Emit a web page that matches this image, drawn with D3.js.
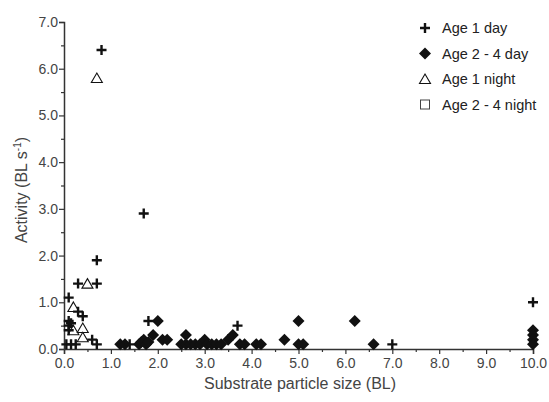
<!DOCTYPE html>
<html lang="en">
<head>
<meta charset="UTF-8">
<script src="https://d3js.org/d3.v7.min.js"></script>
<title>Activity vs substrate particle size</title>
<style>
  body { margin: 0; background: #fff; }
  text { font-family: "Liberation Sans", Arial, sans-serif; }
</style>
</head>
<body>
<script>
// Age 1 day (+)
var age1Day = [[0.8,6.4],[1.7,2.9],[0.7,1.9],[0.3,1.4],[0.7,1.4],[0.1,1.1],[0.3,0.8],[0.4,0.7],
  [0.1,0.6],[0.15,0.55],[0.1,0.5],[0.1,0.4],[0.05,0.1],[0.15,0.1],[0.25,0.1],[0.6,0.2],[0.7,0.1],
  [1.4,0.1],[1.8,0.6],[3.7,0.5],[7.0,0.1],[10.0,1.0]];
// Age 2 - 4 day (filled diamonds)
var age24Day = [[1.2,0.1],[1.3,0.1],[1.6,0.1],[1.65,0.15],[1.7,0.2],[1.75,0.1],[1.8,0.15],[1.9,0.3],
  [2.0,0.6],[2.1,0.2],[2.2,0.2],[2.5,0.1],[2.6,0.3],[2.6,0.1],[2.7,0.1],[2.8,0.1],[2.9,0.1],[3.0,0.2],
  [3.05,0.1],[3.15,0.1],[3.25,0.1],[3.35,0.1],[3.5,0.2],[3.6,0.3],[3.75,0.1],[3.85,0.1],[4.1,0.1],[4.2,0.1],
  [4.7,0.2],[5.0,0.6],[5.0,0.1],[5.1,0.1],[6.2,0.6],[6.6,0.1],[10,0.4],[10,0.3],[10,0.2],[10,0.1]];
// Age 1 night (open triangles)
var age1Night = [[0.7,5.8],[0.5,1.4],[0.2,0.9],[0.2,0.4],[0.4,0.45],[0.4,0.25]];
// Age 2 - 4 night (open squares) - none visible
var age24Night = [];

var legendLabels = ["Age 1 day", "Age 2 - 4 day", "Age 1 night", "Age 2 - 4 night"];
var xTicks = [0,1,2,3,4,5,6,7,8,9,10];
var yTicks = [0,1,2,3,4,5,6,7];

var width = 549, height = 402;
var svg = d3.select("body").append("svg").attr("width", width).attr("height", height);

var x = d3.scaleLinear().domain([0, 10]).range([64, 533]);
var y = d3.scaleLinear().domain([0, 7]).range([349, 22]);

var axisColor = "#333";

// axes
var yAxis = svg.append("g").attr("transform", "translate(64,0)")
  .call(d3.axisLeft(y).tickValues(yTicks).tickFormat(d3.format(".1f")).tickSize(5).tickPadding(1));
var xAxis = svg.append("g").attr("transform", "translate(0,349)")
  .call(d3.axisBottom(x).tickValues(xTicks).tickFormat(d3.format(".1f")).tickSize(5).tickPadding(4));
// minor ticks
svg.append("g").attr("transform", "translate(64,0)")
  .call(d3.axisLeft(y).tickValues(d3.range(0.5, 7, 1)).tickFormat("").tickSize(3))
  .select(".domain").remove();
svg.append("g").attr("transform", "translate(0,349)")
  .call(d3.axisBottom(x).tickValues(d3.range(0.5, 10, 1)).tickFormat("").tickSize(3))
  .select(".domain").remove();

svg.selectAll(".domain").attr("stroke", axisColor).attr("stroke-width", 1.5);
svg.selectAll(".tick line").attr("stroke", axisColor).attr("stroke-width", 1.2);
svg.selectAll(".tick text").attr("fill", "#444").style("font-size", "14px")
  .style("font-family", "'Liberation Sans', Arial, sans-serif");

// axis titles
svg.append("text").attr("x", 300).attr("y", 389).attr("text-anchor", "middle")
  .attr("fill", "#444").style("font-size", "16px").text("Substrate particle size (BL)");
var yt = svg.append("text").attr("transform", "translate(27,190) rotate(-90)")
  .attr("text-anchor", "middle").attr("fill", "#444").style("font-size", "16px");
yt.append("tspan").text("Activity (BL s");
yt.append("tspan").attr("dy", -6).style("font-size", "10px").text("-1");
yt.append("tspan").attr("dy", 6).text(")");

// marker shapes
function plus(g) {
  g.append("path").attr("d", "M-5,0H5M0,-5V5").attr("stroke", "#111").attr("stroke-width", 2.4).attr("fill", "none");
}
function diamond(g) {
  g.append("path").attr("d", "M0,-6L6,0L0,6L-6,0Z").attr("fill", "#111");
}
function triangle(g) {
  g.append("path").attr("d", "M0,-5L5.5,4.5H-5.5Z").attr("fill", "#fff").attr("stroke", "#111").attr("stroke-width", 1.1);
}
function square(g) {
  g.append("rect").attr("x", -4.5).attr("y", -4.5).attr("width", 9).attr("height", 9)
    .attr("fill", "#fff").attr("stroke", "#444").attr("stroke-width", 1);
}

var series = [
  { data: age24Night, draw: square },
  { data: age1Night, draw: triangle },
  { data: age24Day, draw: diamond },
  { data: age1Day, draw: plus }
];
series.forEach(function(s) {
  svg.append("g").selectAll("g").data(s.data).join("g")
    .attr("transform", function(d) { return "translate(" + x(d[0]) + "," + y(d[1]) + ")"; })
    .each(function() { s.draw(d3.select(this)); });
});

// legend
var legendDraw = [plus, diamond, triangle, square];
var lg = svg.append("g").selectAll("g").data(legendLabels).join("g")
  .attr("transform", function(d, i) { return "translate(425," + (28 + i * 25.5) + ")"; });
lg.each(function(d, i) { legendDraw[i](d3.select(this)); });
lg.append("text").attr("x", 17).attr("y", 5).attr("fill", "#222").style("font-size", "14.5px")
  .text(function(d) { return d; });
</script>
</body>
</html>
